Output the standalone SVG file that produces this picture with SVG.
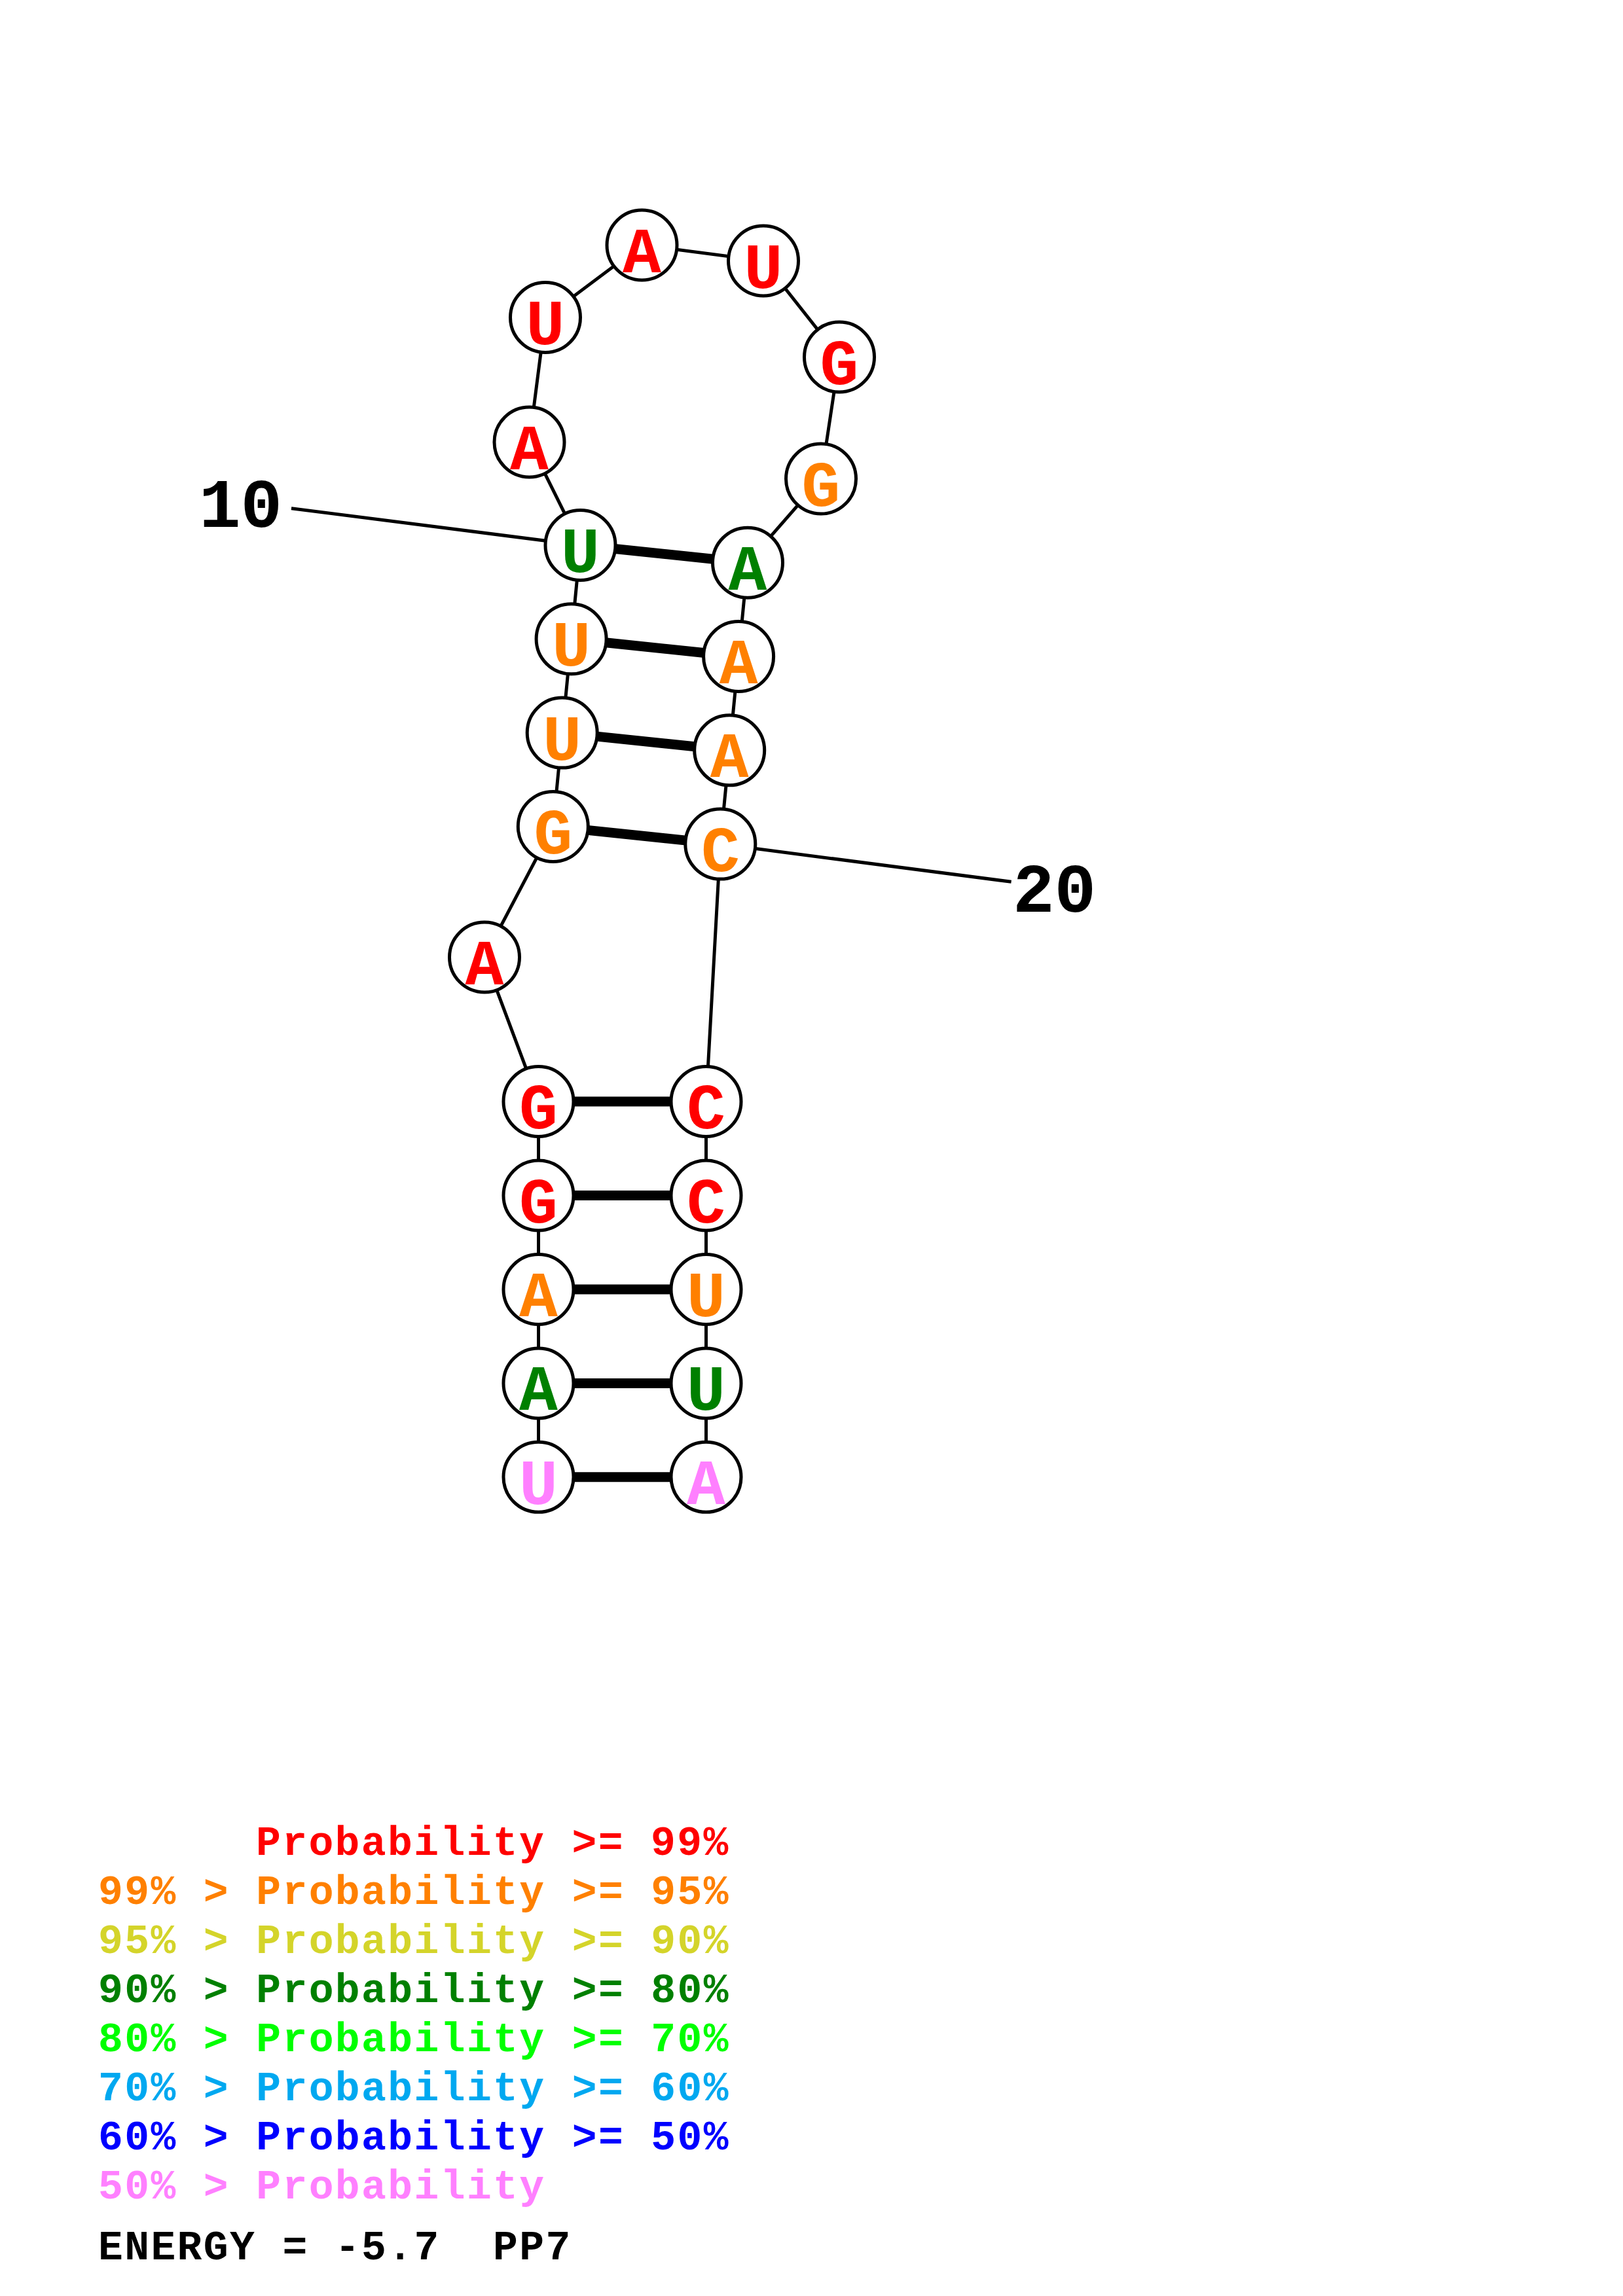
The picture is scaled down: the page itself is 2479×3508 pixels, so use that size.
<svg xmlns="http://www.w3.org/2000/svg" width="2479" height="3508" viewBox="0 0 2479 3508">
<style>
.bb{stroke:#000;stroke-width:5;fill:none}
.pr{stroke:#000;stroke-width:15;fill:none}
.nc{fill:#fff;stroke:#000;stroke-width:5}
.nt{font-family:"Liberation Mono","Courier New",monospace;font-weight:bold;font-size:98px;text-anchor:middle}
.lb{font-family:"Liberation Mono","Courier New",monospace;font-weight:bold;font-size:106px;fill:#000}
.lg{font-family:"Liberation Mono","Courier New",monospace;font-weight:bold;font-size:63px;letter-spacing:2.4px}
.r{fill:#ff0000}.o{fill:#ff8000}.y{fill:#d4d42a}.g{fill:#008000}.lgr{fill:#00ff00}.lb2{fill:#00a8f0}.b{fill:#0000ff}.p{fill:#ff80ff}.k{fill:#000}
</style>
<rect width="2479" height="3508" fill="#fff"/>
<g id="connectors">
<polyline class="bb" points="822.5,2256.8 822.5,2113.4 822.5,1970 822.5,1826.5 822.5,1683 740,1462.5 844.8,1262.9 858.7,1119.6 872.6,976.3 886.5,833 808.5,675.5 833,485 980.5,374.5 1166,398.5 1282,545.5 1254,731.5 1142,859.7 1128.1,1003 1114.2,1146.3 1100.3,1289.6 1078.5,1683 1078.5,1826.5 1078.5,1970 1078.5,2113.4 1078.5,2256.8"/>
<line class="pr" x1="822.5" y1="2256.8" x2="1078.5" y2="2256.8"/>
<line class="pr" x1="822.5" y1="2113.4" x2="1078.5" y2="2113.4"/>
<line class="pr" x1="822.5" y1="1970" x2="1078.5" y2="1970"/>
<line class="pr" x1="822.5" y1="1826.5" x2="1078.5" y2="1826.5"/>
<line class="pr" x1="822.5" y1="1683" x2="1078.5" y2="1683"/>
<line class="pr" x1="844.8" y1="1262.9" x2="1100.3" y2="1289.6"/>
<line class="pr" x1="858.7" y1="1119.6" x2="1114.2" y2="1146.3"/>
<line class="pr" x1="872.6" y1="976.3" x2="1128.1" y2="1003"/>
<line class="pr" x1="886.5" y1="833" x2="1142" y2="859.7"/>
<line class="bb" x1="445" y1="776.7" x2="886.5" y2="833"/>
<line class="bb" x1="1100.3" y1="1289.6" x2="1544.6" y2="1347.3"/>
</g>
<g id="n1"><circle class="nc" cx="822.5" cy="2256.8" r="53.5"/><text class="nt p" x="822.5" y="2297.8">U</text></g>
<g id="n2"><circle class="nc" cx="822.5" cy="2113.4" r="53.5"/><text class="nt g" x="822.5" y="2154.4">A</text></g>
<g id="n3"><circle class="nc" cx="822.5" cy="1970" r="53.5"/><text class="nt o" x="822.5" y="2011">A</text></g>
<g id="n4"><circle class="nc" cx="822.5" cy="1826.5" r="53.5"/><text class="nt r" x="822.5" y="1867.5">G</text></g>
<g id="n5"><circle class="nc" cx="822.5" cy="1683" r="53.5"/><text class="nt r" x="822.5" y="1724">G</text></g>
<g id="n6"><circle class="nc" cx="740" cy="1462.5" r="53.5"/><text class="nt r" x="740" y="1503.5">A</text></g>
<g id="n7"><circle class="nc" cx="844.8" cy="1262.9" r="53.5"/><text class="nt o" x="844.8" y="1303.9">G</text></g>
<g id="n8"><circle class="nc" cx="858.7" cy="1119.6" r="53.5"/><text class="nt o" x="858.7" y="1160.6">U</text></g>
<g id="n9"><circle class="nc" cx="872.6" cy="976.3" r="53.5"/><text class="nt o" x="872.6" y="1017.3">U</text></g>
<g id="n10"><circle class="nc" cx="886.5" cy="833" r="53.5"/><text class="nt g" x="886.5" y="874">U</text></g>
<g id="n11"><circle class="nc" cx="808.5" cy="675.5" r="53.5"/><text class="nt r" x="808.5" y="716.5">A</text></g>
<g id="n12"><circle class="nc" cx="833" cy="485" r="53.5"/><text class="nt r" x="833" y="526">U</text></g>
<g id="n13"><circle class="nc" cx="980.5" cy="374.5" r="53.5"/><text class="nt r" x="980.5" y="415.5">A</text></g>
<g id="n14"><circle class="nc" cx="1166" cy="398.5" r="53.5"/><text class="nt r" x="1166" y="439.5">U</text></g>
<g id="n15"><circle class="nc" cx="1282" cy="545.5" r="53.5"/><text class="nt r" x="1282" y="586.5">G</text></g>
<g id="n16"><circle class="nc" cx="1254" cy="731.5" r="53.5"/><text class="nt o" x="1254" y="772.5">G</text></g>
<g id="n17"><circle class="nc" cx="1142" cy="859.7" r="53.5"/><text class="nt g" x="1142" y="900.7">A</text></g>
<g id="n18"><circle class="nc" cx="1128.1" cy="1003" r="53.5"/><text class="nt o" x="1128.1" y="1044">A</text></g>
<g id="n19"><circle class="nc" cx="1114.2" cy="1146.3" r="53.5"/><text class="nt o" x="1114.2" y="1187.3">A</text></g>
<g id="n20"><circle class="nc" cx="1100.3" cy="1289.6" r="53.5"/><text class="nt o" x="1100.3" y="1330.6">C</text></g>
<g id="n21"><circle class="nc" cx="1078.5" cy="1683" r="53.5"/><text class="nt r" x="1078.5" y="1724">C</text></g>
<g id="n22"><circle class="nc" cx="1078.5" cy="1826.5" r="53.5"/><text class="nt r" x="1078.5" y="1867.5">C</text></g>
<g id="n23"><circle class="nc" cx="1078.5" cy="1970" r="53.5"/><text class="nt o" x="1078.5" y="2011">U</text></g>
<g id="n24"><circle class="nc" cx="1078.5" cy="2113.4" r="53.5"/><text class="nt g" x="1078.5" y="2154.4">U</text></g>
<g id="n25"><circle class="nc" cx="1078.5" cy="2256.8" r="53.5"/><text class="nt p" x="1078.5" y="2297.8">A</text></g>
<g id="labels">
<text class="lb" x="304" y="805">10</text>
<text class="lb" x="1547" y="1393">20</text>
</g>
<g id="legend">
<text class="lg r" x="391" y="2834">Probability &gt;= 99%</text>
<text class="lg o" x="150" y="2909">99% &gt; Probability &gt;= 95%</text>
<text class="lg y" x="150" y="2984">95% &gt; Probability &gt;= 90%</text>
<text class="lg g" x="150" y="3059">90% &gt; Probability &gt;= 80%</text>
<text class="lg lgr" x="150" y="3134">80% &gt; Probability &gt;= 70%</text>
<text class="lg lb2" x="150" y="3209">70% &gt; Probability &gt;= 60%</text>
<text class="lg b" x="150" y="3284">60% &gt; Probability &gt;= 50%</text>
<text class="lg p" x="150" y="3359">50% &gt; Probability</text>
<text class="lg k" x="150" y="3452" xml:space="preserve">ENERGY = -5.7  PP7</text>
</g>
</svg>
